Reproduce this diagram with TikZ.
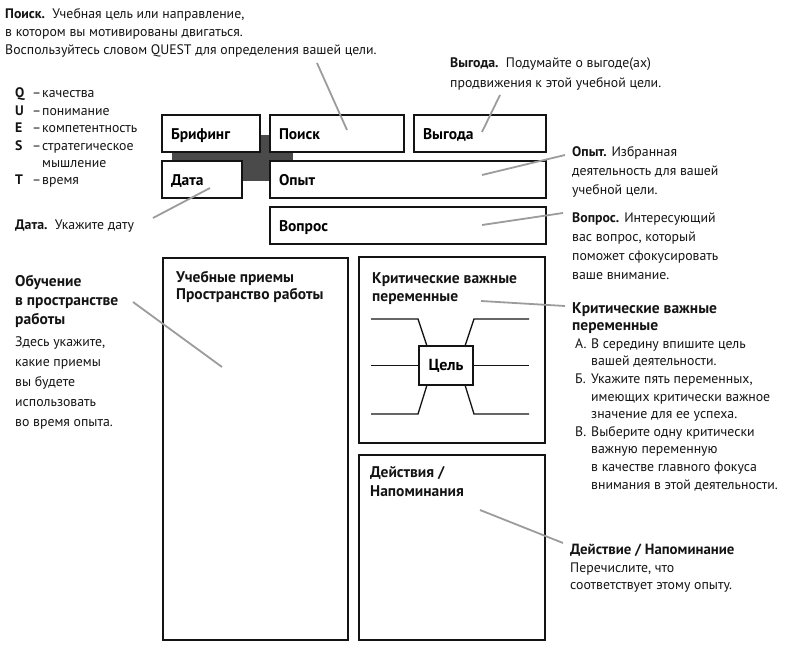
\documentclass[tikz,border=0pt]{standalone}
\usepackage{fontspec}
\setmainfont{PT Sans}
\usetikzlibrary{positioning,calc}
\definecolor{ink}{HTML}{141414}
\definecolor{leadgray}{HTML}{9C9C9C}
\definecolor{bar}{HTML}{4A4A4A}
\tikzset{
  box/.style={draw=ink, line width=1.6pt, fill=white, inner sep=0pt, outer sep=0pt},
  field/.style={box, text width=#1, minimum height=37pt, inner xsep=9pt, align=left,
    text height=11.5pt, text depth=0pt, font=\fontsize{15.5}{17}\selectfont\bfseries},
  boxlbl/.style={anchor=base west, inner sep=0pt, align=left, text=ink,
    font=\fontsize{15.5}{#1}\selectfont\bfseries},
  boxlbl/.default=18,
  note/.style={anchor=base west, inner sep=0pt, align=left, text=ink,
    font=\fontsize{13.8}{#1}\selectfont},
  note/.default=18.5,
  notehead/.style={note=#1, font=\fontsize{15.5}{#1}\selectfont\bfseries},
  leadline/.style={draw=leadgray, line width=1.8pt},
  bone/.style={draw=ink, line width=1.3pt},
}
\newcommand{\leader}[3]{%
  \coordinate (#1-from) at (#2);
  \coordinate (#1-to) at (#3);
  \draw[leadline] (#1-from) -- (#1-to);}
\newcommand{\qline}[2]{\makebox[17pt][l]{\textbf{#1}}\makebox[10pt][l]{–}#2}

\begin{document}
\begin{tikzpicture}[x=1pt,y=-1pt]
  \useasboundingbox (0,0) rectangle (790,647);

  % dark cross behind the top fields
  \fill[bar] (172,151) rectangle (293,162);
  \fill[bar] (242,135) rectangle (270,181);

  % top fields
  \node[field=80pt]  (brief) at (211,133.5) {Брифинг};
  \node[field=116pt, right=10pt of brief] (search) {Поиск};
  \node[field=114pt, right=10pt of search] (benefit) {Выгода};
  \node[field=62pt]  (date) at (202,179.5) {Дата};
  \node[field=258pt] (exper) at (408,179.5) {Опыт};
  \node[field=258pt, below=9pt of exper] (quest) {Вопрос};

  % lower fields
  \node[box, minimum width=185pt, minimum height=382pt] (work) at (255.5,449) {};
  \node[box, minimum width=186pt, minimum height=186pt] (crit) at (452,350) {};
  \node[box, minimum width=186pt, minimum height=185pt, below=12pt of crit] (acts) {};
  % (base = last line)
  \node[boxlbl=17] (work-lbl) at (176,299.3) {Учебные приемы\\Пространство работы};
  \node[boxlbl=18] (crit-lbl) at (372,301.7) {Критические важные\\переменные};
  \node[boxlbl=19] (acts-lbl) at (370,496.7) {Действия /\\Напоминания};

  % goal with five variables
  \node[box, minimum width=54pt, minimum height=39pt,
    font=\fontsize{16}{18}\selectfont\bfseries] (goal) at (446,365.5) {Цель};
  \foreach \s/\len in {-1/47, 1/55} {
    \draw[bone] ([xshift=\s*19pt]goal.north) -- ++(\s*9,-27) -- ++(\s*\len,0);
    \draw[bone] ([xshift=\s*19pt]goal.south) -- ++(\s*9,29) -- ++(\s*\len,0);
  }
  \draw[bone] (goal.west) -- ++(-48,0);
  \draw[bone] (goal.east) -- ++(56,0);

  % notes
  \node[note=18.1] (search-note) at (5,54.5)
    {\textbf{Поиск.}\ \ Учебная цель или направление,\\
     в котором вы мотивированы двигаться.\\
     Воспользуйтесь словом QUEST для определения вашей цели.};
  \node[note=17.4] (quest-list) at (15,185)
    {\qline{Q}{качества}\\ \qline{U}{понимание}\\ \qline{E}{компетентность}\\
     \qline{S}{стратегическое}\\ \hspace*{27pt}мышление\\ \qline{T}{время}};
  \node[note] (date-note) at (15,229.3) {\textbf{Дата.}\ \ Укажите дату};
  \node[note=19.5] (benefit-note) at (450,87.5)
    {\textbf{Выгода.}\ \ Подумайте о выгоде(ах)\\продвижения к этой учебной цели.};
  \node[note=19] (exper-note) at (572,195)
    {\textbf{Опыт.} Избранная\\деятельность для вашей\\учебной цели.};
  \node[note=19] (quest-note) at (572,279.3)
    {\textbf{Вопрос.} Интересующий\\вас вопрос, который\\поможет сфокусировать\\ваше внимание.};
  \node[notehead=19] (work-head) at (15,324) {Обучение\\в пространстве\\работы};
  \node[note=19.9] (work-note) at (15,426)
    {Здесь укажите,\\какие приемы\\вы будете\\использовать\\во время опыта.};
  \node[notehead=16.7] (crit-head) at (572,330)
    {Критические важные\\переменные};
  \node[note=17.6] (crit-note) at (575,489)
    {\makebox[16pt][l]{А.}В середину впишите цель\\
     \hspace*{16pt}вашей деятельности.\\
     \makebox[16pt][l]{Б.}Укажите пять переменных,\\
     \hspace*{16pt}имеющих критически важное\\
     \hspace*{16pt}значение для ее успеха.\\
     \makebox[16pt][l]{В.}Выберите одну критически\\
     \hspace*{16pt}важную переменную\\
     \hspace*{16pt}в качестве главного фокуса\\
     \hspace*{16pt}внимания в этой деятельности.};
  \node[note=17.3] (acts-note) at (570,589.3)
    {{\fontsize{14.8}{17}\selectfont\bfseries Действие / Напоминание}\\
     Перечислите, что\\соответствует этому опыту.};

  % leader lines
  \leader{search}{317,63}{347,130}
  \leader{benefit}{500,95}{482,132}
  \leader{exper}{565,155}{482,175}
  \leader{quest}{563,213}{482,225}
  \leader{date}{153,218}{210,188}
  \leader{work}{133,302}{222,367}
  \leader{crit}{565,306}{481,301}
  \leader{acts}{563,543}{480,510}
\end{tikzpicture}
\end{document}
